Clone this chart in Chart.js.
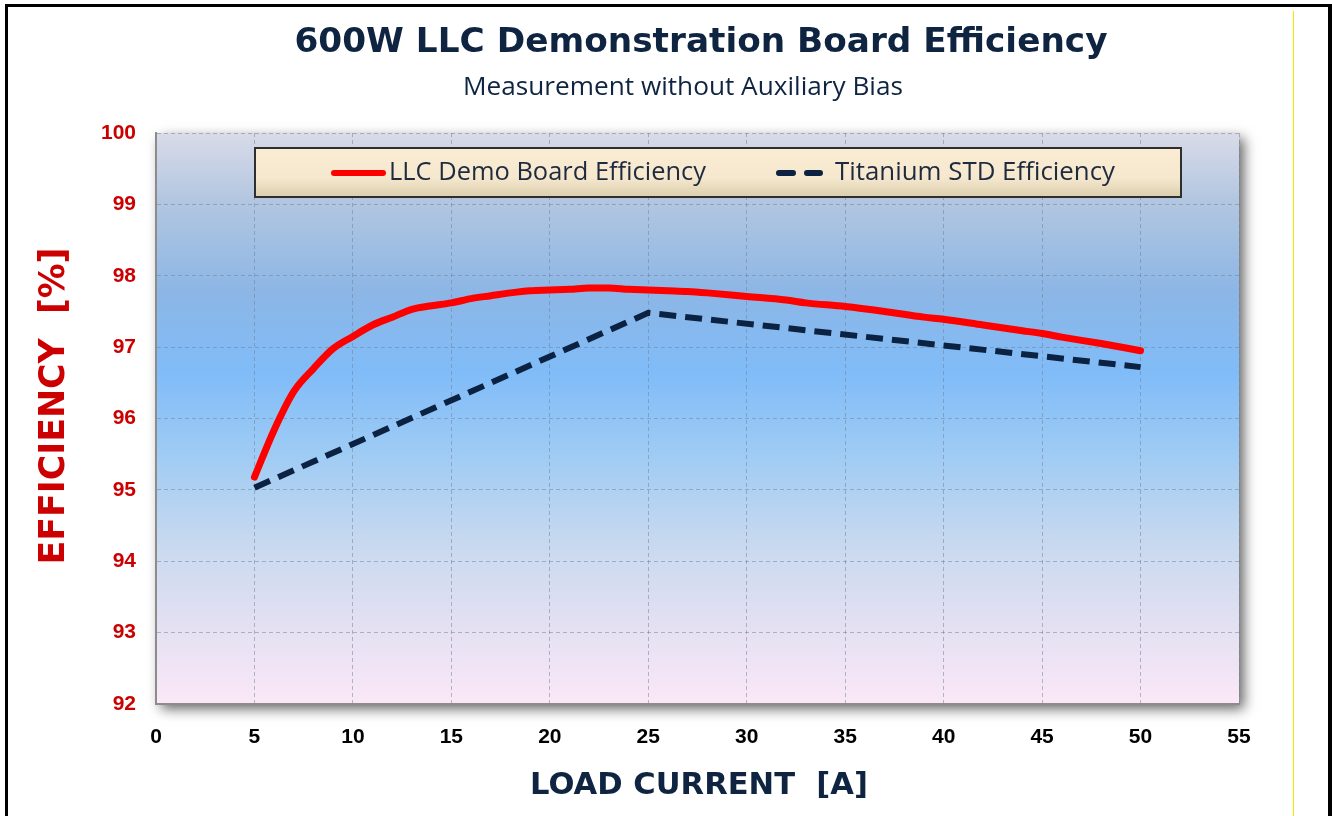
<!DOCTYPE html>
<html>
<head>
<meta charset="utf-8">
<script src="https://cdn.jsdelivr.net/npm/chart.js@4.4.1/dist/chart.umd.min.js"></script>
<style>
  html, body { margin: 0; padding: 0; background: #fff; }
  #wrap { width: 1332px; height: 816px; }
</style>
</head>
<body>
<div id="wrap"><canvas id="effChart" width="1332" height="816"></canvas></div>
<script>
// === Data ===
const loadCurrent = [5, 6, 7, 8, 9, 10, 11, 12, 13, 14, 15, 16, 17, 18, 19, 20, 21, 22, 23, 24, 25,
  26, 27, 28, 30, 32, 33, 35, 37, 39, 40, 42, 44, 45, 46, 48, 50];
const llcEfficiency = [95.18, 95.84, 96.38, 96.70, 96.98, 97.15, 97.31, 97.42, 97.53, 97.58, 97.62,
  97.68, 97.72, 97.76, 97.79, 97.80, 97.81, 97.83, 97.83, 97.81, 97.80,
  97.79, 97.78, 97.76, 97.71, 97.66, 97.62, 97.57, 97.50, 97.42, 97.39, 97.31, 97.23, 97.19, 97.14, 97.05, 96.95];
const titaniumCurrent = [5, 25, 50];
const titaniumEfficiency = [95.03, 97.48, 96.72];

const xTicks = [0, 5, 10, 15, 20, 25, 30, 35, 40, 45, 50, 55];
const yTicks = [92, 93, 94, 95, 96, 97, 98, 99, 100];

const seriesLabels = ["LLC Demo Board Efficiency", "Titanium STD Efficiency"];
const chartTitle = "600W LLC Demonstration Board Efficiency";
const chartSubtitle = "Measurement without Auxiliary Bias";
const xTitle = "LOAD CURRENT  [A]";
const yTitle = "EFFICIENCY  [%]";

const toPoints = (xs, ys) => xs.map((x, i) => ({ x, y: ys[i] }));

// draw text squeezed/stretched to a given width
function fitText(ctx, text, cx, cy, w) {
  const m = ctx.measureText(text).width;
  ctx.save();
  ctx.translate(cx, cy);
  ctx.scale(w / m, 1);
  ctx.fillText(text, 0, 0);
  ctx.restore();
}

// === Frame, plot background and shadow ===
const framePlugin = {
  id: "frame",
  beforeDraw(chart) {
    const { ctx, chartArea: a, width, height } = chart;
    ctx.save();
    ctx.fillStyle = "#ffffff";
    ctx.fillRect(0, 0, width, height);

    // outer black border (no bottom edge)
    ctx.fillStyle = "#000";
    ctx.fillRect(5, 4, 3, height - 4);
    ctx.fillRect(5, 4, width - 5, 3);
    ctx.fillRect(width - 4, 4, 4, height - 4);
    // thin yellow line on the right
    ctx.fillStyle = "#f5e600";
    ctx.fillRect(1293, 11, 1, height - 11);

    // plot shadow
    ctx.shadowColor = "rgba(0,0,0,0.6)";
    ctx.shadowBlur = 12;
    ctx.shadowOffsetX = 5;
    ctx.shadowOffsetY = 5;
    ctx.fillStyle = "#9a9a9a";
    ctx.fillRect(a.left, a.top, a.right - a.left, a.bottom - a.top);
    ctx.shadowColor = "transparent";

    const g = ctx.createLinearGradient(0, a.top, 0, a.bottom);
    g.addColorStop(0.00, "#d9dbe8");
    g.addColorStop(0.12, "#b2c6e0");
    g.addColorStop(0.28, "#8cb6e6");
    g.addColorStop(0.42, "#80bcf8");
    g.addColorStop(0.56, "#9ecbf4");
    g.addColorStop(0.72, "#c8d9ef");
    g.addColorStop(0.86, "#e3e0f2");
    g.addColorStop(1.00, "#fbe8f7");
    ctx.fillStyle = g;
    ctx.fillRect(a.left, a.top, a.right - a.left, a.bottom - a.top);
    ctx.restore();
  }
};

// === Titles, axis titles and legend box ===
const textPlugin = {
  id: "texts",
  afterDraw(chart) {
    const { ctx } = chart;
    ctx.save();
    ctx.textAlign = "center";
    ctx.textBaseline = "middle";

    ctx.fillStyle = "#0f2441";
    ctx.font = "bold 34px 'DejaVu Sans'";
    fitText(ctx, chartTitle, 701, 43, 813);

    ctx.font = "26px 'Open Sans'";
    fitText(ctx, chartSubtitle, 683, 88, 440);

    ctx.font = "bold 31px 'DejaVu Sans'";
    fitText(ctx, xTitle, 699, 786, 338);

    ctx.save();
    ctx.translate(55, 406);
    ctx.rotate(-Math.PI / 2);
    ctx.fillStyle = "#cc0000";
    ctx.font = "bold 35px 'DejaVu Sans'";
    fitText(ctx, yTitle, 0, 0, 317);
    ctx.restore();

    // legend box
    const bx = 255, by = 148, bw = 926, bh = 49;
    const lg = ctx.createLinearGradient(0, by, 0, by + bh);
    lg.addColorStop(0, "#fbedd3");
    lg.addColorStop(0.6, "#f5e8ce");
    lg.addColorStop(1, "#dccfae");
    ctx.fillStyle = lg;
    ctx.fillRect(bx, by, bw, bh);
    ctx.strokeStyle = "#2f2f2f";
    ctx.lineWidth = 2;
    ctx.strokeRect(bx, by, bw, bh);

    const ds = chart.data.datasets;
    const items = [
      { x1: 331, x2: 386, tx: 389, tw: 317 },
      { x1: 776, x2: 823, tx: 835, tw: 280 }
    ];
    ctx.font = "25px 'Open Sans'";
    items.forEach((it, i) => {
      const d = ds[i];
      ctx.save();
      ctx.strokeStyle = d.borderColor;
      ctx.lineWidth = 6;
      ctx.lineCap = "round";
      ctx.setLineDash(d.borderDash && d.borderDash.length ? [14, 14] : []);
      ctx.beginPath();
      ctx.moveTo(it.x1 + 3, 173);
      ctx.lineTo(it.x2 - 3, 173);
      ctx.stroke();
      ctx.restore();
      ctx.fillStyle = "#1e2a3e";
      fitText(ctx, d.label, it.tx + it.tw / 2, 173, it.tw);
    });
    ctx.restore();
  }
};

const gridColor = "rgba(110,125,150,0.5)";

new Chart(document.getElementById("effChart").getContext("2d"), {
  type: "line",
  data: {
    datasets: [
      {
        label: seriesLabels[0],
        data: toPoints(loadCurrent, llcEfficiency),
        borderColor: "#ff0000",
        borderWidth: 7,
        pointRadius: 0,
        tension: 0.3,
        cubicInterpolationMode: "monotone",
        borderCapStyle: "round",
        borderJoinStyle: "round",
        fill: false
      },
      {
        label: seriesLabels[1],
        data: toPoints(titaniumCurrent, titaniumEfficiency),
        borderColor: "#0b2242",
        borderWidth: 6,
        borderDash: [17, 9],
        pointRadius: 0,
        tension: 0,
        fill: false
      }
    ]
  },
  options: {
    responsive: false,
    animation: false,
    layout: { padding: { left: 0, top: 133, right: 93, bottom: 0 } },
    plugins: {
      legend: { display: false },
      title: { display: false },
      tooltip: { enabled: false }
    },
    scales: {
      x: {
        type: "linear",
        min: xTicks[0],
        max: xTicks[xTicks.length - 1],
        afterBuildTicks: s => { s.ticks = xTicks.map(v => ({ value: v })); },
        afterFit: s => { s.height = 112; },
        grid: { color: gridColor, lineWidth: 1, drawTicks: false },
        border: { display: true, color: "#8c8c8c", width: 2, dash: [4, 3] },
        ticks: {
          color: "#000",
          padding: 21,
          font: { family: "'Liberation Sans', Arial", size: 21, weight: "bold" }
        }
      },
      y: {
        min: yTicks[0],
        max: yTicks[yTicks.length - 1],
        afterBuildTicks: s => { s.ticks = yTicks.map(v => ({ value: v })); },
        afterFit: s => { s.width = 156; },
        grid: { color: gridColor, lineWidth: 1, drawTicks: false },
        border: { display: true, color: "#8c8c8c", width: 2, dash: [4, 3] },
        ticks: {
          color: "#cc0000",
          padding: 20,
          font: { family: "'Liberation Sans', Arial", size: 21, weight: "bold" }
        }
      }
    }
  },
  plugins: [framePlugin, textPlugin]
});
</script>
</body>
</html>
